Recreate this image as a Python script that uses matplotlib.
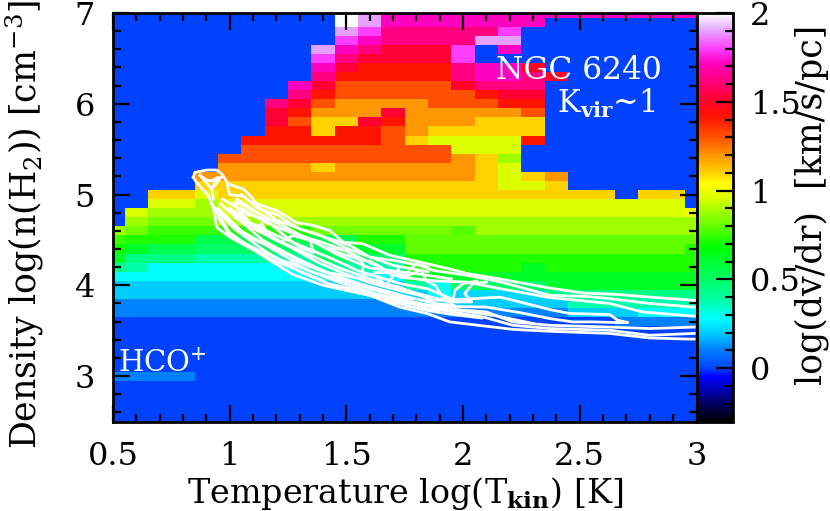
import numpy as np
import matplotlib
matplotlib.use('Agg')
import matplotlib.pyplot as plt
from matplotlib.colors import LinearSegmentedColormap, Normalize
from matplotlib.cm import ScalarMappable
from matplotlib.ticker import MultipleLocator

# log(dv/dr) per cell, rows from log n = 7.0 down to 2.5, columns log T = 0.5 ... 3.0
dvdr = [
    [0]*10 + [2.0, 1.9] + [1.72]*14,
    [0]*10 + [2.0, 1.9] + [1.72]*7 + [0]*7,
    [0]*10 + [1.9, 1.8] + [1.62]*5 + [1.8] + [0]*8,
    [0]*10 + [1.8, 1.72] + [1.62]*4 + [1.9, 1.9] + [0]*8,
    [0]*9 + [1.9, 1.72, 1.62] + [1.52]*3 + [1.8, 0, 1.72] + [0]*8,
    [0]*9 + [1.8, 1.62, 1.52] + [1.52]*3 + [1.8] + [0]*10,
    [0]*9 + [1.72, 1.52, 1.42] + [1.42]*3 + [1.62, 1.72, 1.72, 1.5] + [0]*7,
    [0]*9 + [1.62, 1.42, 1.42] + [1.42]*3 + [1.62, 1.72, 1.72, 1.62, 1.5] + [0]*6,
    [0]*8 + [1.72, 1.52, 1.3, 1.3] + [1.3]*3 + [1.5, 1.62, 1.62, 1.62] + [0]*7,
    [0]*8 + [1.62, 1.42, 1.3, 1.3] + [1.3]*4 + [1.42, 1.52, 1.52] + [0]*7,
    [0]*7 + [1.62, 1.52, 1.3, 1.2, 1.2] + [1.2, 1.2] + [1.3]*3 + [1.42, 1.42] + [0]*7,
    [0]*7 + [1.52, 1.42, 1.2, 1.2, 1.2] + [1.52] + [1.2]*5 + [1.3] + [0]*7,
    [0]*7 + [1.52, 1.3, 1.1, 1.1, 1.52] + [1.42] + [1.2]*3 + [1.1]*3 + [0]*7,
    [0]*7 + [1.42, 1.42, 1.1, 1.42, 1.42] + [1.3, 1.2] + [1.1]*5 + [0]*7,
    [0]*6 + [1.42]*6 + [1.3, 1.1] + [.96]*4 + [1.42] + [0]*7,
    [0]*6 + [1.3]*9 + [.96]*3 + [0]*8,
    [0]*5 + [1.3]*10 + [1.2, 1.1, .88] + [0]*8,
    [0]*5 + [1.2]*4 + [1.1] + [1.2]*6 + [1.1, .96] + [0]*8,
    [0]*4 + [1.2]*12 + [1.1, .96, 1.1, 1.2] + [0]*6,
    [0]*4 + [1.1]*13 + [.96, .96, 1.1] + [0]*6,
    [0]*2 + [1.1, 1.1, .96] + [1.1]*17 + [0, 1.1, 1.1, 0],
    [0]*2 + [.96, .96, .88] + [.96]*20 + [0],
    [0, .96, .88, .88, .88] + [.96]*20 + [1.0],
    [0, .88, .82, .82, .82] + [.88]*21,
    [.88, .82, .75, .75, .75] + [.72]*4 + [.82]*6 + [.78] + [.88]*10,
    [.75, .72, .72, .72, .55] + [.55]*6 + [.72, .72] + [.8]*13,
    [.7, .62, .55, .55, .5] + [.5]*5 + [.62]*3 + [.8]*12 + [.72],
    [.62, .45, .45, .45, .38] + [.38]*4 + [.5]*4 + [.72]*13,
    [.45, .38, .28, .28, .28] + [.28]*4 + [.4]*4 + [.72]*5 + [.62] + [.72]*7,
    [.28]*13 + [.62]*13,
    [.2]*13 + [.4, .3] + [.5]*4 + [.62]*7,
    [.2]*14 + [.28] + [.22]*4 + [.45]*7,
    [.11]*13 + [.2]*7 + [.38]*6,
    [.11]*20 + [.2]*3 + [.28]*3,
    [0]*22 + [.11]*4,
    [0]*26, [0]*26, [0]*26, [0]*26, [0]*26,
    [.11]*4 + [0]*22,
    [0]*26, [0]*26, [0]*26, [0]*26, [0]*26,
]

# white contours as (log T, log n)
c_top = [(.844,5.19),(.851,5.245),(.901,5.27),(.944,5.27),(.966,5.228),(.994,5.117),(1.058,5.06),(1.094,4.97),
         (1.115,4.90),(1.201,4.824),(1.288,4.69),(1.357,4.66),(1.429,4.604),(1.485,4.476),(1.571,4.458),(1.686,4.33),
         (1.815,4.256),(1.943,4.18),(2.016,4.13),(2.157,4.07),(2.371,3.97),(2.513,3.915),(2.658,3.90),(2.80,3.87),(2.99,3.835)]
c_second = [(.99,5.1),(1.0,5.0),(1.06,4.98),(1.12,4.85),(1.2,4.78),(1.3,4.62),(1.386,4.55),(1.472,4.476),(1.515,4.44),
            (1.60,4.31),(1.70,4.275),(1.815,4.22),(1.871,4.165),(2.016,4.11),(2.157,4.04),(2.371,3.89),(2.513,3.88),
            (2.628,3.854),(2.80,3.80),(2.99,3.76)]
c_third = [(.97,4.95),(1.08,4.78),(1.2,4.7),(1.3,4.55),(1.4,4.47),(1.5,4.38),(1.6,4.25),(1.729,4.09),(1.871,4.05),
           (2.016,4.036),(2.157,3.964),(2.371,3.865),(2.628,3.80),(2.77,3.706),(2.99,3.66)]
c_tip = [(.95,4.85),(1.05,4.6),(1.15,4.45),(1.25,4.3),(1.4,4.15),(1.55,4.08),(1.729,3.98),(1.772,3.927),(1.815,3.89),
         (1.858,3.835),(1.956,3.84),(2.157,3.87),(2.243,3.817),(2.371,3.733),(2.457,3.69),(2.628,3.678),(2.663,3.615),
         (2.706,3.59),(2.658,3.59),(2.556,3.597),(2.47,3.597),(2.371,3.634),(2.243,3.70),(2.1,3.76),(1.9,3.77),
         (1.729,3.81),(1.6,3.93),(1.45,4.05),(1.3,4.2),(1.15,4.35),(1.0,4.55),(.95,4.75)]
c_low1 = [(.92,4.9),(1.02,4.62),(1.15,4.38),(1.3,4.15),(1.42,4.02),(1.6,3.92),(1.729,3.85),(1.913,3.744),(2.10,3.707),
          (2.213,3.597),(2.371,3.56),(2.628,3.54),(2.80,3.524),(2.99,3.54)]
c_low2 = [(.93,4.86),(1.0,4.58),(1.12,4.36),(1.27,4.12),(1.4,4.0),(1.6,3.89),(1.729,3.84),(1.845,3.744),(1.913,3.725),
          (2.085,3.652),(2.213,3.56),(2.371,3.524),(2.628,3.505),(2.80,3.45),(2.99,3.47)]
c_low3 = [(.844,5.19),(.858,5.135),(.908,4.99),(.93,4.86),(.944,4.64),(1.0,4.53),(1.094,4.40),(1.172,4.293),(1.258,4.2),
          (1.40,4.05),(1.442,3.98),(1.60,3.89),(1.729,3.76),(1.845,3.69),(1.943,3.597),(2.213,3.515),(2.371,3.494),
          (2.628,3.47),(2.80,3.42),(2.99,3.406)]
c_loop = [(.873,5.21),(.90,5.16),(.923,5.15),(.95,5.19),(.923,5.06),(.873,5.21)]
c_cross = [(.966,5.2),(.923,5.06),(.93,4.95)]
c_wig1 = [(1.022,4.915),(1.037,4.824),(1.08,4.714),(1.10,4.62),(1.137,4.678),(1.172,4.53),(1.215,4.476),(1.272,4.55),
          (1.344,4.494),(1.36,4.36),(1.30,4.42),(1.258,4.5),(1.2,4.62),(1.13,4.78),(1.06,4.88),(1.022,4.915)]
c_wig2 = [(1.41,4.42),(1.5,4.38),(1.57,4.25),(1.57,4.13),(1.62,4.11),(1.67,4.0),(1.70,4.1),(1.68,4.14),(1.62,4.14)]
c_wig3 = [(1.6,4.27),(1.68,4.15),(1.76,4.1),(1.82,4.17),(1.84,4.05),(1.88,4.0),(1.913,3.87),(1.956,3.817),(2.037,3.817),
          (2.007,3.91),(2.042,4.02),(2.10,4.036)]
c_wig4 = [(1.956,3.83),(1.965,3.945),(2.0,4.02),(2.059,4.047)]
c_wig5 = [(1.72,4.2),(1.729,4.11),(1.75,4.09),(1.77,4.18),(1.80,4.235),(1.85,4.2)]
c_blob = [(1.956,3.83),(2.03,3.83)]
c_fan1 = [(1.0,4.85),(1.08,4.7),(1.2,4.55),(1.32,4.42),(1.45,4.28),(1.55,4.16),(1.729,4.02),(1.85,3.96),(1.96,3.84)]
c_fan2 = [(1.02,4.75),(1.12,4.6),(1.26,4.42),(1.38,4.25),(1.5,4.12),(1.6,4.03),(1.729,3.94),(1.85,3.87),(1.95,3.82)]
c_fan3 = [(.97,4.78),(1.06,4.55),(1.18,4.42),(1.3,4.28),(1.42,4.14),(1.55,4.0),(1.66,3.92),(1.8,3.8),(1.95,3.74)]
c_fan4 = [(1.05,4.85),(1.15,4.7),(1.26,4.58),(1.36,4.48),(1.46,4.34),(1.6,4.19),(1.7,4.16),(1.82,4.12),(1.95,4.07)]
c_fan5 = [(.96,4.9),(1.04,4.72),(1.14,4.5),(1.24,4.36),(1.36,4.2),(1.48,4.08),(1.62,3.97),(1.75,3.88),(1.88,3.80),(1.96,3.78)]
c_fan6 = [(.98,4.85),(1.1,4.66),(1.22,4.48),(1.34,4.34),(1.46,4.2),(1.58,4.09),(1.7,3.99),(1.82,3.9),(1.95,3.81)]
c_fan7 = [(1.03,4.95),(1.12,4.8),(1.22,4.66),(1.33,4.52),(1.44,4.38),(1.54,4.3)]
c_fan8 = [(1.26,4.26),(1.36,4.14),(1.5,4.04),(1.62,3.97),(1.72,3.9),(1.78,3.85)]
c_fan9 = [(1.05,5.0),(1.1,4.9),(1.2,4.72),(1.28,4.64),(1.38,4.56),(1.5,4.41),(1.58,4.33),(1.7,4.22),(1.85,4.15)]
c_fan10 = [(1.65,3.85),(1.75,3.78),(1.85,3.72),(1.95,3.68),(2.08,3.64)]
c_fan11 = [(1.7,3.88),(1.8,3.8),(1.9,3.75),(2.0,3.72),(2.15,3.66),(2.3,3.58)]
contours = [c_top, c_second, c_third, c_tip, c_low1, c_low2, c_low3, c_loop, c_cross, c_wig1, c_wig2, c_wig3,
            c_wig4, c_wig5, c_blob, c_fan1, c_fan2, c_fan3, c_fan4, c_fan5, c_fan6, c_fan7, c_fan8, c_fan9,
            c_fan10, c_fan11]

colors = [(-.3,(0,0,0)),(-.17,(0,0,128)),(-.05,(0,0,255)),(0,(0,70,255)),(.11,(0,130,255)),(.2,(0,205,255)),
          (.28,(0,255,255)),(.38,(0,255,170)),(.45,(0,255,130)),(.55,(0,255,75)),(.62,(0,255,40)),(.68,(0,255,0)),
          (.72,(30,255,0)),(.8,(100,255,0)),(.88,(160,255,0)),(.96,(220,255,0)),(1.04,(255,255,0)),(1.1,(255,210,0)),
          (1.2,(255,150,0)),(1.3,(255,80,0)),(1.42,(255,20,0)),(1.52,(255,0,50)),(1.62,(255,0,128)),(1.72,(255,0,190)),
          (1.8,(255,60,255)),(1.9,(230,160,255)),(2,(255,255,255))]
cmap = LinearSegmentedColormap.from_list(
    'dvdr', [((v + .3) / 2.3, tuple(c / 255 for c in rgb)) for v, rgb in colors], N=512)
norm = Normalize(-.3, 2)

plt.rcParams['font.family'] = 'DejaVu Serif'
plt.rcParams['mathtext.fontset'] = 'dejavuserif'

W, H = 830, 511
fig = plt.figure(figsize=(W / 100, H / 100), dpi=100)
ax = fig.add_axes([113 / W, 1 - 421.5 / H, 583.5 / W, 408.5 / H])
cax = fig.add_axes([697 / W, 1 - 421.5 / H, 36 / W, 408.5 / H])

t_edges = np.arange(26 + 1) * .1 + .45
n_edges = np.arange(46 + 1)[::-1] * .1 + 2.45
ax.pcolormesh(t_edges, n_edges, np.array(dvdr), cmap=cmap, norm=norm)
for c in contours:
    pts = np.array(c)
    ax.plot(pts[:, 0], pts[:, 1], color='white', lw=2.0, solid_joinstyle='round')
ax.set_xlim(.5, 3)
ax.set_ylim(2.5, 7)

ax.xaxis.set_major_locator(MultipleLocator(.5))
ax.xaxis.set_minor_locator(MultipleLocator(.1))
ax.yaxis.set_major_locator(MultipleLocator(1))
ax.yaxis.set_minor_locator(MultipleLocator(.2))
ax.tick_params(which='both', direction='in', top=True, right=True, width=1.6, color='black')
ax.tick_params(which='major', length=12, labelsize=23)
ax.tick_params(axis='x', which='major', pad=14)
ax.tick_params(axis='y', which='major', pad=13)
ax.tick_params(which='minor', length=6)
ax.set_xticks([.5, 1, 1.5, 2, 2.5, 3], ['0.5', '1', '1.5', '2', '2.5', '3'])
ax.set_yticks([3, 4, 5, 6, 7], ['3', '4', '5', '6', '7'])
for s in ax.spines.values():
    s.set_linewidth(2)

cb = fig.colorbar(ScalarMappable(norm=norm, cmap=cmap), cax=cax)
cb.set_ticks([0, .5, 1, 1.5, 2], labels=['0', '0.5', '1', '1.5', '2'])
cb.ax.yaxis.set_minor_locator(MultipleLocator(.1))
cb.ax.tick_params(which='both', direction='in', right=True, left=False, width=1.6)
cb.ax.tick_params(which='major', length=12, labelsize=23, pad=12)
cb.ax.tick_params(which='minor', length=6)
cb.outline.set_linewidth(2)

fig.text(405 / W, 1 - 494 / H, r'Temperature log(T$_{\mathbf{kin}}$) [K]', fontsize=24, ha='center', va='center')
fig.text(25 / W, 1 - 224 / H, r'Density log(n(H$_{2}$)) [cm$^{-3}$]', fontsize=25, rotation=90, ha='center', va='center')
fig.text(812 / W, 1 - 205 / H, 'log(dv/dr)  [km/s/pc]', fontsize=25, rotation=90, ha='center', va='center')
ax.text(2.495, 6.37, 'NGC 6240', color='white', fontsize=22.5, ha='center', va='center')
ax.text(2.615, 6.0, r'K$_{\mathbf{vir}}$~1', color='white', fontsize=22, ha='center', va='center')
ax.text(.52, 3.14, r'HCO$^{+}$', color='white', fontsize=21, ha='left', va='center')

fig.savefig('out.png', dpi=100)
